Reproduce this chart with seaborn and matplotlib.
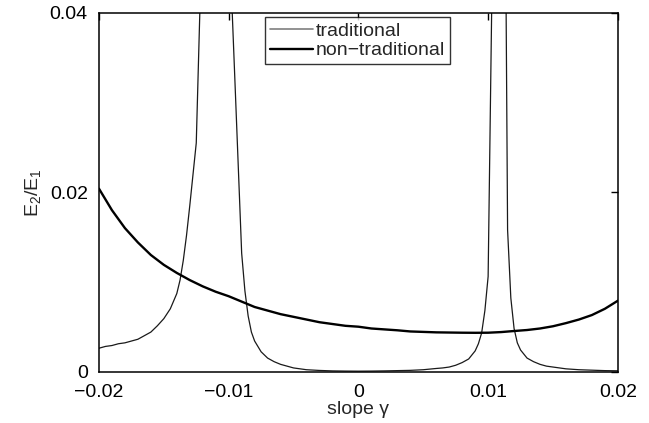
import numpy as np
import pandas as pd
import matplotlib
matplotlib.use("Agg")
import matplotlib.pyplot as plt
import seaborn as sns

# slope values (gamma) and energy ratios for the traditional model
gamma_trad = [-0.0200, -0.0195, -0.0190, -0.0185, -0.0180, -0.0175, -0.0170, -0.0165,
              -0.0160, -0.0155, -0.0150, -0.0145, -0.0140, -0.01375, -0.0135, -0.01325,
              -0.0130, -0.01275, -0.0125,
              -0.0120, -0.0115, -0.0110, -0.0105, -0.0100, -0.0095, -0.0090, -0.00875,
              -0.0085, -0.00825,
              -0.0080, -0.0075, -0.0070, -0.0065, -0.0060, -0.0055, -0.0050, -0.0045,
              -0.0040, -0.0030, -0.0020, -0.0010, 0.0000, 0.0010, 0.0020, 0.0030,
              0.0040, 0.0050, 0.0060, 0.0065, 0.0070, 0.0075, 0.0080, 0.0085,
              0.0090, 0.00925, 0.0095, 0.00975, 0.0100, 0.0105, 0.0110, 0.0115, 0.01175,
              0.0120, 0.01225, 0.0125,
              0.0130, 0.0135, 0.0140, 0.0145, 0.0150, 0.0160, 0.0170, 0.0180,
              0.0190, 0.0200]
ratio_trad = [0.0026, 0.0028, 0.0029, 0.0031, 0.0032, 0.0034, 0.0036, 0.0040,
              0.0044, 0.0051, 0.0059, 0.0070, 0.0087, 0.0102, 0.0124, 0.0152,
              0.0185, 0.0220, 0.0255,
              0.0520, 0.0900, 0.1100, 0.0800, 0.0500, 0.0317, 0.0132, 0.0090,
              0.0062, 0.0044,
              0.0034, 0.0022, 0.0015, 0.0011, 0.0008, 0.0006, 0.0004, 0.0003,
              0.0002, 0.00012, 0.00007, 0.00005, 0.00004, 0.00005, 0.00007, 0.00010,
              0.00013, 0.0002, 0.00034, 0.0004, 0.0005, 0.0007, 0.0010, 0.0014,
              0.0023, 0.0031, 0.0043, 0.0068, 0.0106, 0.0650, 0.1240, 0.0158, 0.0082,
              0.0048, 0.0032, 0.0024,
              0.0015, 0.0011, 0.0008, 0.0006, 0.0005, 0.0003, 0.0002, 0.00015,
              0.0001, 0.00008]

# slope values and energy ratios for the non-traditional model
gamma_nontrad = [-0.020, -0.019, -0.018, -0.017, -0.016, -0.015, -0.014, -0.013,
                 -0.012, -0.011, -0.010, -0.009, -0.008, -0.007, -0.006, -0.005,
                 -0.004, -0.003, -0.002, -0.001, 0.000, 0.001, 0.002, 0.003,
                 0.004, 0.005, 0.006, 0.007, 0.008, 0.009, 0.010, 0.011,
                 0.012, 0.013, 0.014, 0.015, 0.016, 0.017, 0.018, 0.019, 0.020]
ratio_nontrad = [0.0204, 0.0180, 0.0160, 0.0144, 0.0130, 0.0119, 0.0110, 0.0102,
                 0.0095, 0.0089, 0.0084, 0.0078, 0.0072, 0.0068, 0.0064, 0.0061,
                 0.0058, 0.0055, 0.0053, 0.0051, 0.0050, 0.0048, 0.0047, 0.0046,
                 0.00447, 0.00442, 0.00437, 0.00435, 0.00433, 0.00432, 0.00433, 0.00440,
                 0.00452, 0.00463, 0.00480, 0.00505, 0.00540, 0.00580, 0.00630, 0.00700,
                 0.00790]

x_ticks = [-0.02, -0.01, 0.0, 0.01, 0.02]
x_tick_labels = ["\u22120.02", "\u22120.01", "0", "0.01", "0.02"]
y_ticks = [0.0, 0.02, 0.04]
y_tick_labels = ["0", "0.02", "0.04"]

df = pd.concat([
    pd.DataFrame({"gamma": gamma_trad, "ratio": ratio_trad, "model": "traditional"}),
    pd.DataFrame({"gamma": gamma_nontrad, "ratio": ratio_nontrad, "model": "non\u2212traditional"}),
], ignore_index=True)

sns.set_style("white")
plt.rcParams["font.family"] = ["Liberation Sans", "DejaVu Sans"]
plt.rcParams["mathtext.fontset"] = "custom"
plt.rcParams["mathtext.rm"] = "Liberation Sans"
plt.rcParams["mathtext.it"] = "Liberation Sans"

FS = 14

fig = plt.figure(figsize=(6.49, 4.23), dpi=100)
ax = fig.add_axes([0.1525, 0.1217, 0.7995, 0.8476])

sns.lineplot(data=df, x="gamma", y="ratio", hue="model", size="model",
             palette={"traditional": "#1a1a1a", "non\u2212traditional": "black"},
             sizes={"traditional": 0.9, "non\u2212traditional": 1.7},
             sort=False, estimator=None, ax=ax, legend=True)

ax.set_xlim(-0.02, 0.02)
ax.set_ylim(0, 0.04)
ax.set_xticks(x_ticks)
ax.set_xticklabels(x_tick_labels)
ax.set_yticks(y_ticks)
ax.set_yticklabels(y_tick_labels)
ax.tick_params(direction="in", length=5, width=1, top=True, right=True,
               labelsize=FS, colors="black")
ax.tick_params(axis="y", pad=8)
ax.tick_params(axis="x", pad=9)
for s in ax.spines.values():
    s.set_visible(True)
    s.set_color("black")
    s.set_linewidth(1.1)

ax.set_xlabel("slope \u03b3", fontsize=FS, labelpad=0)
ax.set_ylabel("E$_2$/E$_1$", fontsize=FS, labelpad=5)

handles, labels = ax.get_legend_handles_labels()
leg = ax.legend(handles, labels, loc="upper left", bbox_to_anchor=(0.32, 0.988),
                frameon=True, fancybox=False, edgecolor="black", fontsize=FS,
                handlelength=2.2, handletextpad=0.15, borderpad=0.25,
                labelspacing=0.1, borderaxespad=0.0)
leg.get_frame().set_linewidth(1.0)
leg.get_lines()[0].set_color("#7f7f7f")
leg.get_lines()[0].set_linewidth(1.2)

fig.savefig("out.png", dpi=100)
